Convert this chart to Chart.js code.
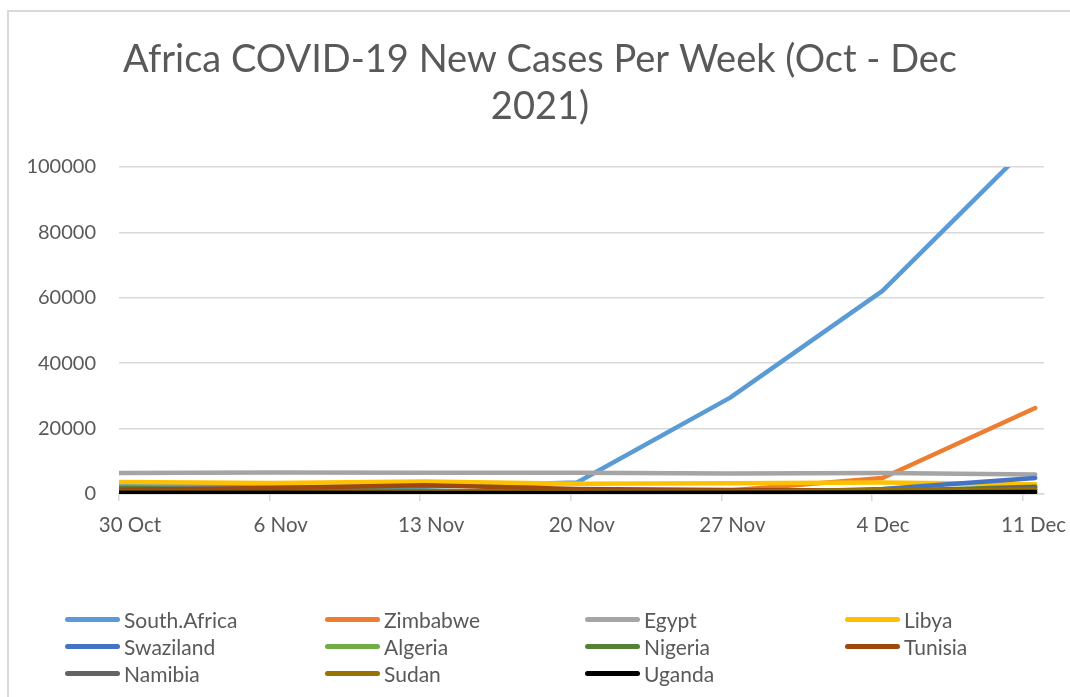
<!DOCTYPE html>
<html>
<head>
<meta charset="utf-8">
<script src="https://cdn.jsdelivr.net/npm/chart.js@4"></script>
<style>
  html, body { margin: 0; padding: 0; background: #fff; }
  #wrap { position: relative; width: 1070px; height: 697px; overflow: hidden; }
  #frame { position: absolute; left: 7px; top: 10px; width: 1100px; height: 720px; border: 2px solid #d9d9d9; box-sizing: border-box; }
  #legend { position: absolute; left: 65px; top: 608px; display: grid; grid-template-columns: repeat(4, 260px); row-gap: 5px; font-family: Lato, sans-serif; font-size: 21px; color: #595959; }
  .item { display: flex; align-items: center; height: 22px; }
  .swatch { width: 55px; height: 5px; border-radius: 3px; margin-right: 4px; }
</style>
</head>
<body>
<div id="wrap">
  <div id="frame"></div>
  <canvas id="covidChart" width="1070" height="697" style="position:absolute;left:0;top:0;"></canvas>
  <div id="legend"></div>
</div>
<script>
var weeks = ["30 Oct", "6 Nov", "13 Nov", "20 Nov", "27 Nov", "4 Dec", "11 Dec"];
var yTicks = [0, 20000, 40000, 60000, 80000, 100000];

var southAfrica = [2700, 2100, 2200, 3500, 29400, 62100, 108500];
var zimbabwe    = [300, 200, 150, 250, 1100, 4900, 26300];
var egypt       = [6400, 6600, 6500, 6500, 6300, 6400, 6000];
var libya       = [3700, 3400, 3800, 3100, 3300, 3500, 3000];
var swaziland   = [60, 40, 30, 40, 200, 1500, 4900];
var algeria     = [800, 700, 700, 650, 700, 900, 1300];
var nigeria     = [1800, 1200, 900, 700, 600, 900, 2200];
var tunisia     = [1300, 1800, 2700, 1500, 1200, 1100, 1400];
var namibia     = [150, 120, 100, 100, 150, 400, 2100];
var sudan       = [600, 500, 500, 600, 700, 1200, 1400];
var uganda      = [400, 350, 300, 300, 350, 450, 600];

var seriesNames = ["South.Africa", "Zimbabwe", "Egypt", "Libya", "Swaziland", "Algeria",
                   "Nigeria", "Tunisia", "Namibia", "Sudan", "Uganda"];
var seriesValues = [southAfrica, zimbabwe, egypt, libya, swaziland, algeria,
                    nigeria, tunisia, namibia, sudan, uganda];
var seriesColors = ["#5B9BD5", "#ED7D31", "#A5A5A5", "#FFC000", "#4472C4", "#70AD47",
                    "#548235", "#9E480E", "#636363", "#997300", "#000000"];

// the date axis in the sheet puts ticks a bit tighter than the points
var tickStep = 150.6 / 152.7;

var datasets = seriesNames.map(function(name, i) {
  return {
    label: name,
    data: seriesValues[i].map(function(v, k) { return { x: k, y: v }; }),
    borderColor: seriesColors[i],
    backgroundColor: seriesColors[i],
    borderWidth: 4.5,
    borderCapStyle: "round",
    borderJoinStyle: "round",
    pointRadius: 0,
    tension: 0,
    order: seriesNames.length - i
  };
});

var ctx = document.getElementById("covidChart").getContext("2d");
var chart = new Chart(ctx, {
  type: "line",
  data: { datasets: datasets },
  options: {
    responsive: false,
    animation: false,
    layout: { padding: { left: 10, right: 0, top: 0, bottom: 0 } },
    plugins: {
      legend: { display: false },
      tooltip: { enabled: false },
      title: {
        display: true,
        text: ["Africa COVID-19 New Cases Per Week (Oct - Dec", "2021)"],
        color: "#595959",
        font: { family: "Lato", size: 38, weight: "normal", lineHeight: 1.237 },
        padding: { top: 36, bottom: 37 }
      }
    },
    scales: {
      x: {
        type: "linear",
        min: 0,
        max: 925 / 152.7,
        afterBuildTicks: function(axis) {
          axis.ticks = weeks.map(function(w, k) { return { value: k * tickStep }; });
        },
        afterFit: function(scale) { scale.height = 697 - 494; },
        grid: { drawOnChartArea: false, drawTicks: true, tickLength: 7, color: "#d9d9d9", lineWidth: 1.5 },
        border: { display: true, color: "#d9d9d9", width: 1.5 },
        ticks: {
          autoSkip: false,
          maxRotation: 0,
          padding: 12,
          labelOffset: 11,
          color: "#595959",
          font: { family: "Lato", size: 20.5 },
          callback: function(value, index) { return weeks[index]; }
        }
      },
      y: {
        min: 0,
        max: 100000,
        afterBuildTicks: function(axis) {
          axis.ticks = yTicks.map(function(v) { return { value: v }; });
        },
        afterFit: function(scale) { scale.width = 109; },
        grid: { drawTicks: false, color: "#d9d9d9", lineWidth: 1.5 },
        border: { display: false },
        ticks: {
          padding: 23,
          color: "#595959",
          font: { family: "Lato", size: 20 },
          callback: function(value) { return String(value); }
        }
      },
      // empty right-hand strip so the plot ends where the sheet's does
      yRight: {
        position: "right",
        min: 0,
        max: 1,
        afterFit: function(scale) { scale.width = 26; },
        grid: { drawOnChartArea: false, drawTicks: false },
        border: { display: false },
        ticks: { display: false }
      }
    }
  }
});

// legend laid out as the sheet's four-column grid
var legendBox = document.getElementById("legend");
chart.data.datasets.forEach(function(ds) {
  var item = document.createElement("div");
  item.className = "item";
  var sw = document.createElement("span");
  sw.className = "swatch";
  sw.style.background = ds.borderColor;
  var txt = document.createElement("span");
  txt.textContent = ds.label;
  item.appendChild(sw);
  item.appendChild(txt);
  legendBox.appendChild(item);
});
</script>
</body>
</html>
